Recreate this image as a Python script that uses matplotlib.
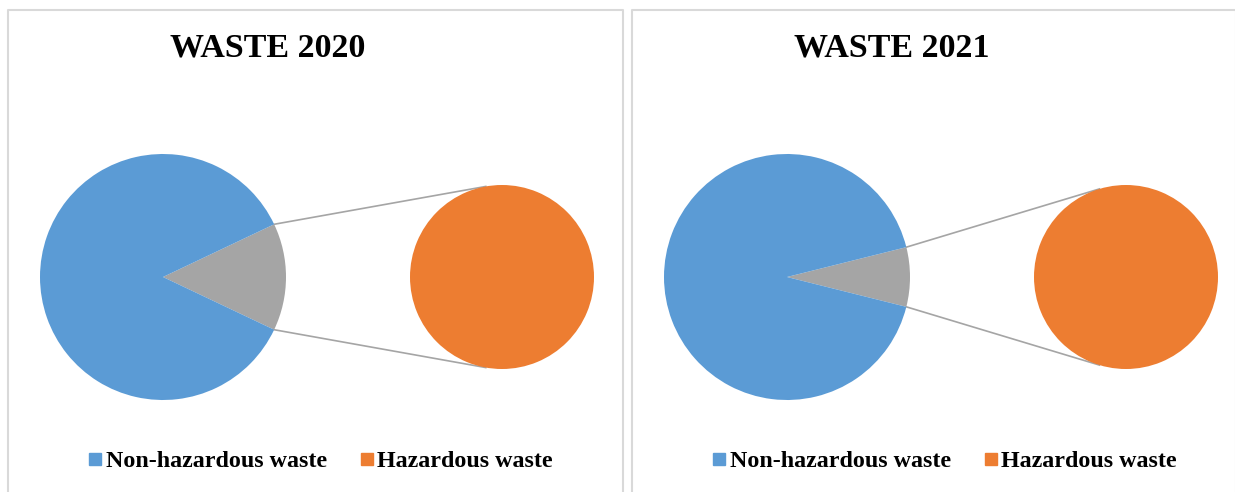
import numpy as np
import matplotlib.pyplot as plt
from matplotlib.lines import Line2D

# Share of each waste type (%)
years = ['2020', '2021']
non_hazardous = [85.9, 92.2]
hazardous = [14.1, 7.8]
labels = ['Non-hazardous waste', 'Hazardous waste']

BLUE = '#5b9bd5'
ORANGE = '#ed7d31'
GREY = '#a5a5a5'
FRAME = '#d9d9d9'

W, H = 1235, 492
fig = plt.figure(figsize=(W / 100, H / 100), dpi=100)
ax = fig.add_axes([0, 0, 1, 1])
ax.set_xlim(0, W)
ax.set_ylim(H, 0)
ax.set_aspect('equal')
ax.axis('off')

panel_left = [8, 632]
panel_right = [622.5, 1236]
main_r = 123
sub_r = 92

for i, year in enumerate(years):
    x0 = panel_left[i]
    cx, cy = x0 + 155, 277
    sx, sy = x0 + 494, 277

    # panel frame (open at the bottom)
    ax.plot([x0, x0, panel_right[i], panel_right[i]], [H, 10, 10, H],
            color=FRAME, lw=1.5, clip_on=False)

    ax.text(x0 + 260, 48, f'WASTE {year}', ha='center', va='center',
            fontsize=24.5, fontweight='bold', family='Liberation Serif')

    # main pie, the hazardous part collected into a grey "other" slice
    share = hazardous[i] / (hazardous[i] + non_hazardous[i])
    half = 180 * share
    ax.pie([hazardous[i], non_hazardous[i]], colors=[GREY, BLUE],
           startangle=-half, counterclock=True, center=(cx, cy),
           radius=main_r, frame=True,
           wedgeprops=dict(linewidth=0))

    # secondary pie holds only the hazardous waste
    ax.pie([hazardous[i]], colors=[ORANGE], center=(sx, sy),
           radius=sub_r, frame=True, wedgeprops=dict(linewidth=0))

    # connector lines from the grey slice to the secondary pie tangents
    a = np.radians(half)
    for sign in (-1, 1):
        px = cx + main_r * np.cos(a)
        py = cy + sign * main_r * np.sin(a)
        dx, dy = px - sx, py - sy
        d = np.hypot(dx, dy)
        phi = np.arctan2(dy, dx)
        alpha = np.arccos(sub_r / d)
        t = phi - sign * alpha
        tx, ty = sx + sub_r * np.cos(t), sy + sub_r * np.sin(t)
        ax.plot([px, tx], [py, ty], color=GREY, lw=1.2, zorder=0)

    handles = [Line2D([], [], marker='s', ls='none', markersize=8,
                      markerfacecolor=c, markeredgecolor=c)
               for c in (BLUE, ORANGE)]
    fig.legend(handles, labels, loc='center', ncol=2,
               bbox_to_anchor=((x0 + 313) / W, (H - 461) / H),
               frameon=False, handlelength=0.5, handletextpad=0.2,
               columnspacing=1.4,
               prop=dict(family='Liberation Serif', weight='bold', size=17.3))

ax.set_xlim(0, W)
ax.set_ylim(H, 0)

fig.savefig('out.png', dpi=100, facecolor='white')
